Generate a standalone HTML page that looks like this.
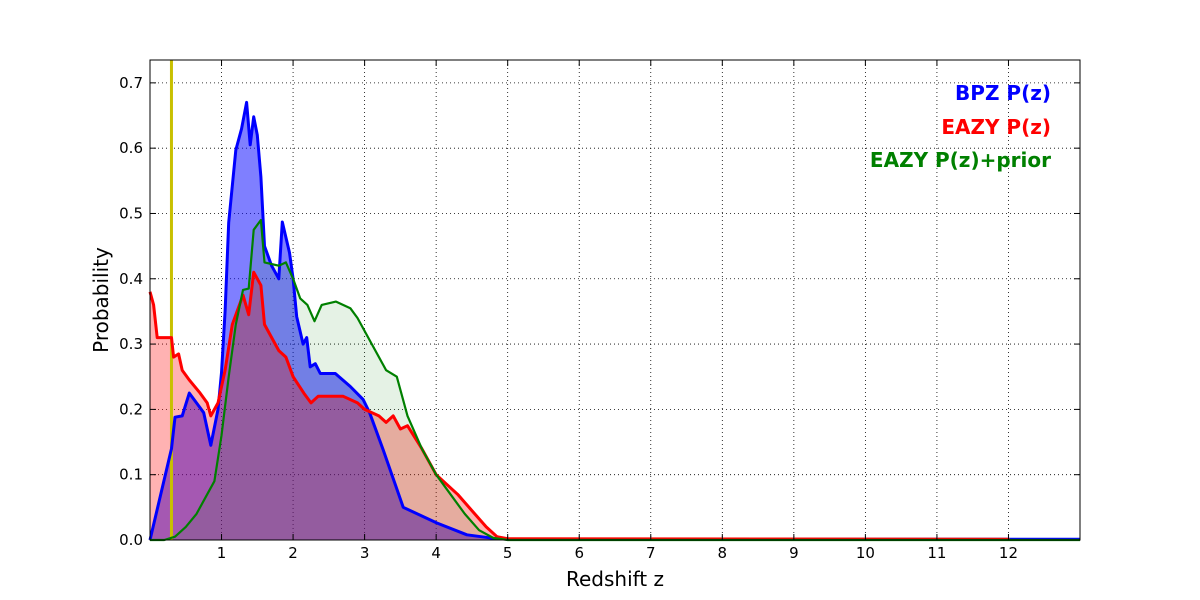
<!DOCTYPE html>
<html><head><meta charset="utf-8">
<style>
html,body{margin:0;padding:0;background:#fff;}
svg{display:block;font-family:"DejaVu Sans","Liberation Sans",sans-serif;}
</style></head>
<body>
<svg id="chart" width="1200" height="600" viewBox="0 0 1200 600" xmlns="http://www.w3.org/2000/svg">
<rect width="1200" height="600" fill="#fff"/>
<g id="grid"></g>
<g id="series"></g>
<g id="axes"></g>
<text x="1051" y="100" text-anchor="end" font-size="20" font-weight="bold" fill="#0000ff">BPZ P(z)</text>
<text x="1051" y="134" text-anchor="end" font-size="20" font-weight="bold" fill="#ff0000">EAZY P(z)</text>
<text x="1051" y="167" text-anchor="end" font-size="20" font-weight="bold" fill="#008000">EAZY P(z)+prior</text>
<text x="615" y="586" text-anchor="middle" font-size="20">Redshift z</text>
<text x="108" y="300" text-anchor="middle" font-size="20" transform="rotate(-90 108 300)">Probability</text>
</svg>
<script>
const xTicks=[1,2,3,4,5,6,7,8,9,10,11,12];
const yTicks=[0.0,0.1,0.2,0.3,0.4,0.5,0.6,0.7];
const markerZ=0.3;
const bpzZ=[0,0.3,0.35,0.45,0.55,0.65,0.75,0.85,0.95,1.0,1.05,1.1,1.2,1.28,1.35,1.4,1.45,1.5,1.55,1.6,1.7,1.8,1.85,1.95,2.0,2.05,2.14,2.19,2.24,2.31,2.38,2.59,2.8,2.98,3.07,3.26,3.54,4.01,4.43,4.84,5.2,13];
const bpzP=[0,0.14,0.188,0.19,0.225,0.21,0.195,0.145,0.2,0.256,0.35,0.486,0.597,0.63,0.67,0.605,0.648,0.62,0.556,0.45,0.42,0.40,0.487,0.44,0.40,0.342,0.30,0.31,0.265,0.27,0.255,0.255,0.235,0.215,0.195,0.138,0.05,0.026,0.008,0.002,0.001,0.001];
const eazyZ=[0,0.05,0.1,0.2,0.3,0.33,0.4,0.45,0.55,0.7,0.8,0.85,0.95,1.05,1.15,1.3,1.38,1.45,1.55,1.6,1.8,1.9,2.0,2.15,2.25,2.35,2.7,2.9,3.0,3.2,3.3,3.4,3.5,3.6,3.8,4.0,4.3,4.5,4.7,4.85,5.0,12,12.01];
const eazyP=[0.38,0.36,0.31,0.31,0.31,0.28,0.285,0.26,0.245,0.225,0.21,0.19,0.21,0.26,0.33,0.375,0.345,0.41,0.39,0.33,0.29,0.28,0.25,0.225,0.21,0.22,0.22,0.21,0.20,0.19,0.18,0.19,0.17,0.175,0.14,0.1,0.07,0.045,0.02,0.005,0.002,0.001,0];
const priorZ=[0,0.2,0.35,0.5,0.65,0.8,0.9,1.0,1.1,1.2,1.3,1.38,1.45,1.55,1.6,1.8,1.9,2.0,2.1,2.2,2.3,2.4,2.6,2.8,2.9,3.1,3.3,3.45,3.6,3.8,4.0,4.2,4.4,4.6,4.8,5.0,13];
const priorP=[0,0,0.005,0.02,0.04,0.07,0.09,0.16,0.25,0.33,0.383,0.385,0.475,0.49,0.425,0.42,0.425,0.40,0.37,0.36,0.335,0.36,0.365,0.355,0.34,0.30,0.26,0.25,0.19,0.14,0.10,0.07,0.04,0.015,0.003,0,0];
const L=150,R=1080,T=60,B=540,XMAX=13,YMAX=0.735;
const xs=z=>L+(R-L)*z/XMAX;
const ys=p=>B-(B-T)*p/YMAX;
const NS="http://www.w3.org/2000/svg";
function mk(tag,parent,attrs){const e=document.createElementNS(NS,tag);for(const k in attrs)e.setAttribute(k,attrs[k]);parent.appendChild(e);return e;}
const grid=document.getElementById('grid'),axes=document.getElementById('axes'),ser=document.getElementById('series');
xTicks.forEach(t=>{
  const gl=mk('line',grid,{x1:xs(t),x2:xs(t),y1:T,y2:B,stroke:'#000','stroke-width':0.8,'stroke-dasharray':'1,3'});
  
  
  mk('line',axes,{x1:xs(t),x2:xs(t),y1:B,y2:B-6,stroke:'#000'});
  mk('line',axes,{x1:xs(t),x2:xs(t),y1:T,y2:T+6,stroke:'#000'});
  const tx=mk('text',axes,{x:xs(t),y:B+18,'text-anchor':'middle','font-size':15});
  tx.textContent=t;
  
  
});
yTicks.forEach(t=>{
  const gl=mk('line',grid,{x1:L,x2:R,y1:ys(t),y2:ys(t),stroke:'#000','stroke-width':0.8,'stroke-dasharray':'1,3'});
  
  
  mk('line',axes,{x1:L,x2:L+6,y1:ys(t),y2:ys(t),stroke:'#000'});
  mk('line',axes,{x1:R,x2:R-6,y1:ys(t),y2:ys(t),stroke:'#000'});
  const tx=mk('text',axes,{x:L-7,y:ys(t)+5,'text-anchor':'end','font-size':15});
  tx.textContent=t.toFixed(1);
  
  
});
const frame=mk('rect',axes,{x:L,y:T,width:R-L,height:B-T,fill:'none',stroke:'#000','stroke-width':1});


function pts(Z,P){return Z.map((z,i)=>xs(z).toFixed(1)+','+ys(P[i]).toFixed(1));}
function series(Z,P,color,alpha,name){
  const p=pts(Z,P);
  const area=mk('polygon',ser,{points:xs(Z[0])+','+B+' '+p.join(' ')+' '+xs(Z[Z.length-1])+','+B,fill:color,'fill-opacity':alpha,stroke:'none'});
  
  
  return p;
}
const lines=[];
lines.push([series(bpzZ,bpzP,'#0000ff',0.5,'bpz'),'#0000ff','bpz']);
lines.push([series(eazyZ,eazyP,'#ff0000',0.3,'eazy'),'#ff0000','eazy']);
lines.push([series(priorZ,priorP,'#008000',0.1,'eazy-prior'),'#008000','eazy-prior']);
const mline=mk('line',ser,{x1:xs(markerZ),x2:xs(markerZ),y1:T,y2:B,stroke:'#c8c000','stroke-width':3});


lines.forEach(([p,c,n])=>{
  const l=mk('polyline',ser,{points:p.join(' '),fill:'none',stroke:c,'stroke-width':n==='eazy-prior'?2.2:3,'stroke-linejoin':'round'});
  
  
});
</script>
</body></html>
